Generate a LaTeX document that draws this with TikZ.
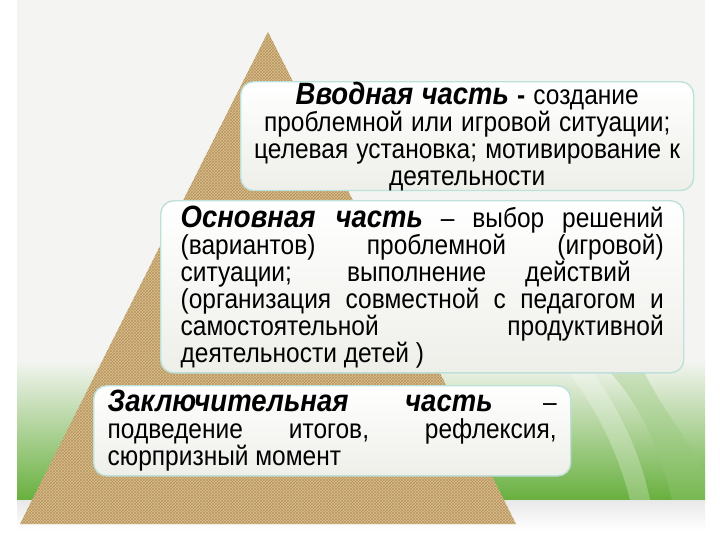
\documentclass[tikz,border=0pt]{standalone}
\usepackage{fontspec}
\setmainfont{Liberation Sans}
\usetikzlibrary{patterns}

\definecolor{burlap}{RGB}{220,192,140}
\definecolor{weave}{RGB}{158,122,70}
\definecolor{boxline}{RGB}{190,224,218}
\definecolor{slidebg}{RGB}{244,245,242}
\definecolor{boxlow}{RGB}{238,239,233}
\definecolor{leafgreen}{RGB}{104,176,62}

\newcommand{\parthead}[1]{{\fontsize{27.5}{24.1}\selectfont\bfseries\itshape #1}}

\begin{document}
\begin{tikzpicture}[x=1pt, y=-1pt,
  partbox/.style={draw=boxline, line width=1.4pt, rounded corners=13pt,
    top color=white, bottom color=boxlow, anchor=north west,
    yscale=1.12, transform shape,
    font=\fontsize{24.5}{24.1}\selectfont, inner ysep=0pt}]

  % slide background
  \fill[white] (0,0) rectangle (720,540);
  \fill[slidebg] (17,0) rectangle (705,500);
  \shade[top color=slidebg, bottom color=leafgreen] (17,360) rectangle (705,500);
  \fill[leafgreen!70!white, opacity=.35] (600,362) .. controls (640,400) and (660,450) .. (672,500) -- (705,500) -- (705,470) .. controls (680,430) and (650,390) .. (640,362) -- cycle;
  \fill[white, opacity=.25] (560,362) .. controls (600,410) and (620,460) .. (630,500) -- (650,500) .. controls (640,450) and (615,400) .. (585,362) -- cycle;
  \shade[top color=gray!18, bottom color=white] (17,500) rectangle (705,530);

  % burlap pyramid
  \coordinate (apex) at (268,32);
  \coordinate (baseR) at (516,524);
  \coordinate (baseL) at (20,524);
  \fill[burlap] (apex) -- (baseR) -- (baseL) -- cycle;
  \fill[pattern=crosshatch, pattern color=weave, opacity=.6] (apex) -- (baseR) -- (baseL) -- cycle;

  % the three parts
  \node[partbox, text width=430pt, inner xsep=11.5pt, minimum height=95.5pt, align=center] (intro) at (240,81)
    {\parthead{Вводная часть} {\bfseries -} создание\\
     проблемной или игровой ситуации;\\
     целевая установка; мотивирование к\\
     деятельности};

  \node[partbox, text width=483pt, inner xsep=20pt, minimum height=153.6pt, align=justify] (main) at (160,200)
    {\parthead{Основная часть} – выбор решений\linebreak
     (вариантов) проблемной (игровой)\linebreak
     ситуации; выполнение действий\hspace*{33pt}\linebreak
     (организация совместной с педагогом и\linebreak
     самостоятельной продуктивной\linebreak
     деятельности детей )};

  \node[partbox, text width=449pt, inner xsep=14pt, minimum height=80.4pt, align=justify] (final) at (93,385)
    {\parthead{Заключительная часть} –\linebreak
     подведение итогов, рефлексия,\linebreak
     сюрпризный момент};

  \useasboundingbox (0,0) rectangle (720,540);
\end{tikzpicture}
\end{document}
